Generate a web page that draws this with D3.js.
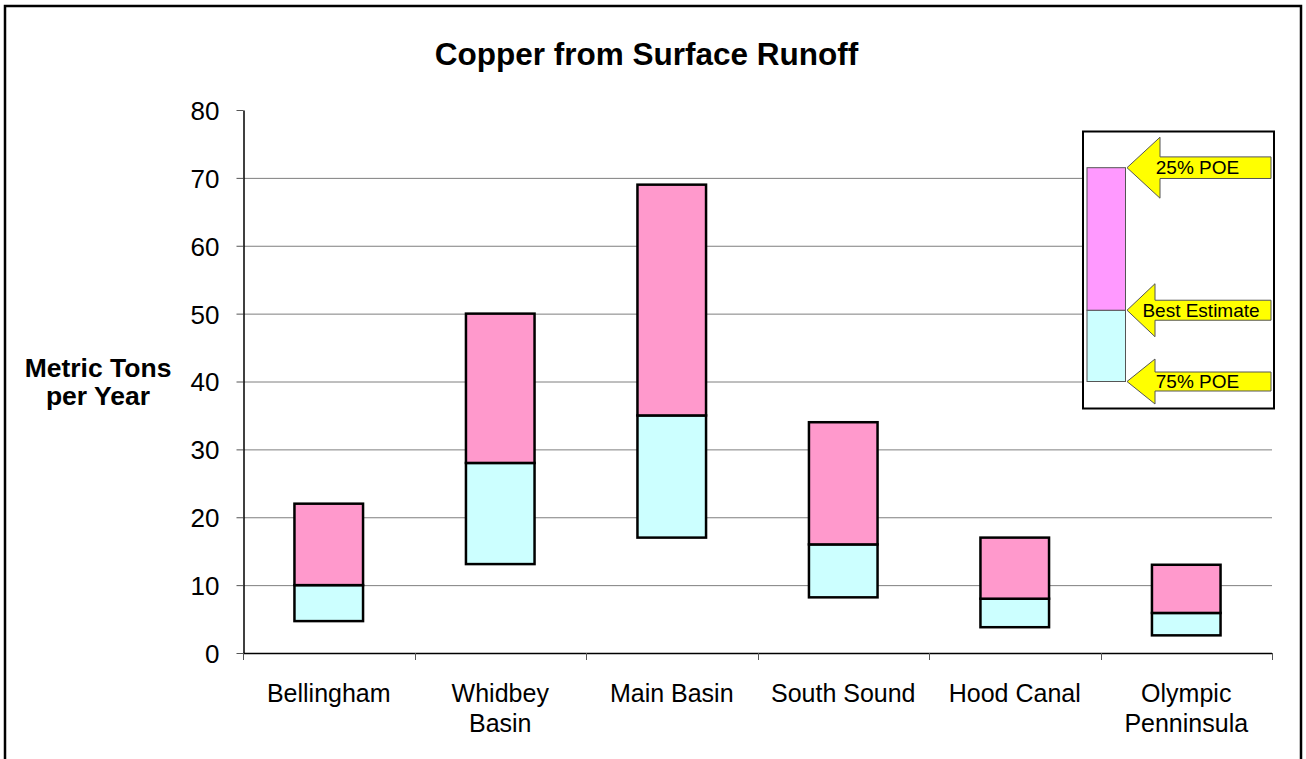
<!DOCTYPE html>
<html>
<head>
<meta charset="utf-8">
<script src="https://cdn.jsdelivr.net/npm/d3@7"></script>
<style>
  html, body { margin: 0; padding: 0; background: #fff; }
  svg { display: block; font-family: "Liberation Sans", Arial, sans-serif; }
</style>
</head>
<body>
<svg id="chart" width="1306" height="759"></svg>
<script>
// ---- Data ----
const categories = ["Bellingham", "Whidbey\nBasin", "Main Basin", "South Sound", "Hood Canal", "Olympic\nPenninsula"];
const poe75 = [4.7, 13.1, 17.0, 8.2, 3.8, 2.6];      // 75% POE (bottom)
const bestEstimate = [10, 28, 35, 16, 8, 5.9];      // Best Estimate (middle)
const poe25 = [22, 50, 69, 34, 17, 13];              // 25% POE (top)
const yTicks = [0, 10, 20, 30, 40, 50, 60, 70, 80];
const legendLabels = ["25% POE", "Best Estimate", "75% POE"];
const legendValues = [71.5, 50.5, 40];               // legend sample heights (units of y scale)

(function () {
const svg = d3.select("#chart");

// outer frame
svg.append("rect").attr("x", 5).attr("y", 6).attr("width", 1296).attr("height", 770)
  .attr("fill", "#fff").attr("stroke", "#000").attr("stroke-width", 2.5);

const pLeft = 243, pRight = 1272, pTop = 110, pBottom = 653;
const x = d3.scaleBand().domain(d3.range(categories.length)).range([pLeft, pRight]).paddingInner(0).paddingOuter(0);
const y = d3.scaleLinear().domain([0, 80]).range([pBottom, pTop]);

// gridlines
svg.append("g").selectAll("line").data(yTicks.filter(t => t > 0 && t < 80)).join("line")
  .attr("x1", pLeft).attr("x2", pRight)
  .attr("y1", d => y(d) + 0.5).attr("y2", d => y(d) + 0.5)
  .attr("stroke", "#7f7f7f").attr("stroke-width", 1);

// y axis
const yAxis = svg.append("g").attr("transform", `translate(${pLeft + 0.5},0)`)
  .call(d3.axisLeft(y).tickValues(yTicks).tickSize(7).tickSizeOuter(0).tickPadding(17));
yAxis.attr("font-size", null).attr("font-family", null);
yAxis.select(".domain").attr("stroke", "#000").attr("stroke-width", 1.5);
yAxis.selectAll(".tick line").attr("stroke", "#555");
yAxis.selectAll("text").attr("font-size", 26).attr("fill", "#000").attr("dy", "0.36em");

// x axis
svg.append("line").attr("x1", pLeft).attr("x2", pRight).attr("y1", pBottom + 0.5).attr("y2", pBottom + 0.5)
  .attr("stroke", "#000").attr("stroke-width", 1.5);
const boundaries = d3.range(categories.length + 1).map(i => i === categories.length ? pRight : x(i));
svg.append("g").selectAll("line").data(boundaries).join("line")
  .attr("x1", d => Math.round(d) + 0.5).attr("x2", d => Math.round(d) + 0.5)
  .attr("y1", pBottom).attr("y2", pBottom + 7)
  .attr("stroke", "#555").attr("stroke-width", 1);

// x labels
const xl = svg.append("g");
categories.forEach((c, i) => {
  const t = xl.append("text").attr("x", x(i) + x.bandwidth() / 2).attr("y", 702)
    .attr("text-anchor", "middle").attr("font-size", 25).attr("fill", "#000");
  c.split("\n").forEach((line, j) => {
    t.append("tspan").attr("x", x(i) + x.bandwidth() / 2).attr("dy", j === 0 ? 0 : 30).text(line);
  });
});

// bars
const barW = x.bandwidth() * 0.4;
const bars = svg.append("g");
categories.forEach((c, i) => {
  const cx = x(i) + x.bandwidth() / 2;
  bars.append("rect").attr("x", cx - barW / 2).attr("width", barW)
    .attr("y", y(bestEstimate[i])).attr("height", y(poe75[i]) - y(bestEstimate[i]))
    .attr("fill", "#ccffff").attr("stroke", "#000").attr("stroke-width", 2.5);
  bars.append("rect").attr("x", cx - barW / 2).attr("width", barW)
    .attr("y", y(poe25[i])).attr("height", y(bestEstimate[i]) - y(poe25[i]))
    .attr("fill", "#ff99cc").attr("stroke", "#000").attr("stroke-width", 2.5);
});

// title
svg.append("text").attr("x", 646.5).attr("y", 65).attr("text-anchor", "middle")
  .attr("font-size", 31.5).attr("font-weight", "bold").text("Copper from Surface Runoff");

// y axis title
const yt = svg.append("text").attr("x", 98).attr("y", 377).attr("text-anchor", "middle")
  .attr("font-size", 26.5).attr("font-weight", "bold");
yt.append("tspan").attr("x", 98).attr("dy", 0).text("Metric Tons");
yt.append("tspan").attr("x", 98).attr("dy", 28).text("per Year");

// legend
const lg = svg.append("g");
lg.append("rect").attr("x", 1083).attr("y", 131.5).attr("width", 191).attr("height", 277)
  .attr("fill", "#fff").attr("stroke", "#000").attr("stroke-width", 2);
const lx0 = 1087, lx1 = 1125.5;
const ly = y;
lg.append("rect").attr("x", lx0).attr("width", lx1 - lx0)
  .attr("y", ly(legendValues[1])).attr("height", ly(legendValues[2]) - ly(legendValues[1]))
  .attr("fill", "#ccffff").attr("stroke", "#555").attr("stroke-width", 1);
lg.append("rect").attr("x", lx0).attr("width", lx1 - lx0)
  .attr("y", ly(legendValues[0])).attr("height", ly(legendValues[1]) - ly(legendValues[0]))
  .attr("fill", "#ff99ff").attr("stroke", "#555").attr("stroke-width", 1);

const arrowSpecs = [
  { headBack: 1160, headHalf: 30.5, shaftHalf: 10.8, tx: 1197.5 },
  { headBack: 1155, headHalf: 26.5, shaftHalf: 10, tx: 1201 },
  { headBack: 1155, headHalf: 22.5, shaftHalf: 9.5, tx: 1197.5 }
];
legendLabels.forEach((lab, i) => {
  const cy = ly(legendValues[i]);
  const s = arrowSpecs[i];
  const tip = 1127, end = 1271;
  const pts = [[tip, cy], [s.headBack, cy - s.headHalf], [s.headBack, cy - s.shaftHalf], [end, cy - s.shaftHalf],
               [end, cy + s.shaftHalf], [s.headBack, cy + s.shaftHalf], [s.headBack, cy + s.headHalf]];
  lg.append("path").attr("d", d3.line()(pts) + "Z")
    .attr("fill", "#ffff00").attr("stroke", "#555").attr("stroke-width", 1);
  lg.append("text").attr("x", s.tx).attr("y", cy + 6.5).attr("text-anchor", "middle")
    .attr("font-size", 19).attr("fill", "#000").text(lab);
});
})();
</script>
</body>
</html>
